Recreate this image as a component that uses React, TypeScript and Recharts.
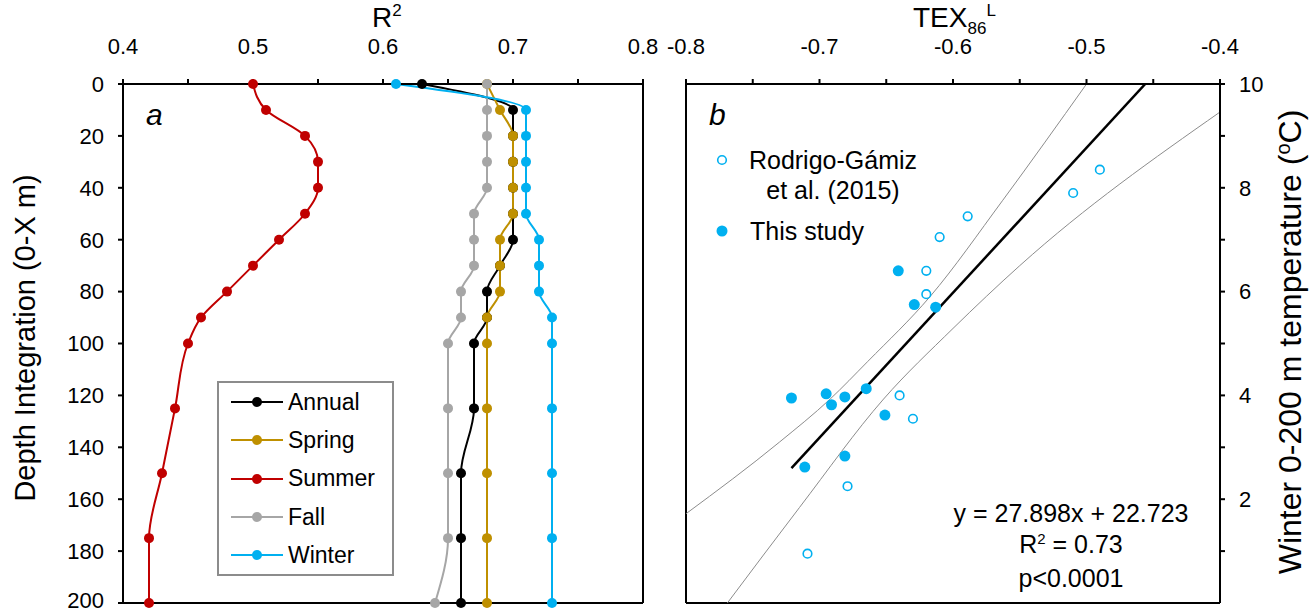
import React from "react";
import {
  ComposedChart,
  Legend,
  Line,
  LineChart,
  ReferenceLine,
  Scatter,
  XAxis,
  YAxis,
} from "recharts";

const FONT = '"Liberation Sans", Arial, Helvetica, sans-serif';

// panel a: R2 vs integration depth
const depths = [0, 10, 20, 30, 40, 50, 60, 70, 80, 90, 100, 125, 150, 175, 200];
const annual = [0.63, 0.7, 0.7, 0.7, 0.7, 0.7, 0.7, 0.69, 0.68, 0.68, 0.67, 0.67, 0.66, 0.66, 0.66];
const spring = [0.68, 0.69, 0.7, 0.7, 0.7, 0.7, 0.69, 0.69, 0.69, 0.68, 0.68, 0.68, 0.68, 0.68, 0.68];
const summer = [0.5, 0.51, 0.54, 0.55, 0.55, 0.54, 0.52, 0.5, 0.48, 0.46, 0.45, 0.44, 0.43, 0.42, 0.42];
const fall = [0.68, 0.68, 0.68, 0.68, 0.68, 0.67, 0.67, 0.67, 0.66, 0.66, 0.65, 0.65, 0.65, 0.65, 0.64];
const winter = [0.61, 0.71, 0.71, 0.71, 0.71, 0.71, 0.72, 0.72, 0.72, 0.73, 0.73, 0.73, 0.73, 0.73, 0.73];

const seasons = [
  { key: "annual", name: "Annual", color: "#000000", values: annual },
  { key: "spring", name: "Spring", color: "#BF9000", values: spring },
  { key: "summer", name: "Summer", color: "#C00000", values: summer },
  { key: "fall", name: "Fall", color: "#A6A6A6", values: fall },
  { key: "winter", name: "Winter", color: "#00B0F0", values: winter },
];

const r2Ticks = [0.4, 0.45, 0.5, 0.55, 0.6, 0.65, 0.7, 0.75, 0.8];
const depthTicks = [0, 20, 40, 60, 80, 100, 120, 140, 160, 180, 200];

// panel b: TEX86L vs winter temperature
const rodrigoTex = [-0.589, -0.51, -0.49, -0.61, -0.62, -0.62, -0.64, -0.63, -0.679, -0.709];
const rodrigoTemp = [7.45, 7.9, 8.35, 7.05, 6.4, 5.95, 4.0, 3.55, 2.25, 0.95];
const studyTex = [-0.641, -0.629, -0.613, -0.721, -0.695, -0.691, -0.681, -0.665, -0.651, -0.681, -0.711];
const studyTemp = [6.4, 5.75, 5.7, 3.95, 4.03, 3.82, 3.97, 4.13, 3.62, 2.83, 2.62];

const fitTex = [-0.721, -0.456];
const fitTemp = [2.6, 10];
const upperTex = [-0.8, -0.73, -0.692, -0.664, -0.617, -0.563, -0.5];
const upperTemp = [1.72, 3.1, 3.93, 4.65, 5.91, 7.75, 10];
const lowerTex = [-0.769, -0.715, -0.652, -0.6, -0.55, -0.4];
const lowerTemp = [0, 1.84, 3.93, 5.29, 6.5, 9.46];

const texTicks = [-0.8, -0.75, -0.7, -0.65, -0.6, -0.55, -0.5, -0.45, -0.4];
const tempTicks = [0, 1, 2, 3, 4, 5, 6, 7, 8, 9, 10];

const BLUE = "#00B0F0";

const pts = (xs: number[], ys: number[]) => xs.map((x, i) => ({ x, y: ys[i] }));

const rowsA = depths.map((depth, i) => {
  const row: Record<string, number> = { depth };
  seasons.forEach((s) => (row[s.key] = s.values[i]));
  return row;
});

const tickStyle = { fill: "#000", fontSize: 22, fontFamily: FONT };

const everyTenth = (v: number) => (Math.round(v * 100) % 10 === 0 ? String(Number(v.toFixed(1))) : "");

function SeasonLegend() {
  return (
    <div
      style={{
        border: "2px solid #8c8c8c",
        background: "#fff",
        padding: "0 12px",
        fontFamily: FONT,
        fontSize: 23,
        width: 149,
      }}
    >
      {seasons.map((s) => (
        <div key={s.key} style={{ display: "flex", alignItems: "center", height: 38.3 }}>
          <svg width={52} height={14} style={{ marginRight: 5 }}>
            <line x1={0} x2={52} y1={7} y2={7} stroke={s.color} strokeWidth={2} />
            <circle cx={26} cy={7} r={5} fill={s.color} />
          </svg>
          <span>{s.name}</span>
        </div>
      ))}
    </div>
  );
}

function TexLegend() {
  return (
    <div style={{ fontFamily: FONT, fontSize: 25, position: "relative", width: 230, height: 110 }}>
      <svg width={20} height={20} style={{ position: "absolute", left: 2, top: 10 }}>
        <circle cx={10} cy={10} r={4.3} fill="#fff" stroke={BLUE} strokeWidth={1.6} />
      </svg>
      <div style={{ position: "absolute", left: 23, top: 5, width: 200, textAlign: "center", lineHeight: "30px" }}>
        Rodrigo-Gámiz
        <br />
        et al. (2015)
      </div>
      <svg width={20} height={20} style={{ position: "absolute", left: 2, top: 81 }}>
        <circle cx={10} cy={10} r={5.5} fill={BLUE} />
      </svg>
      <div style={{ position: "absolute", left: 40, top: 76, lineHeight: "30px", whiteSpace: "nowrap" }}>This study</div>
    </div>
  );
}

const abs = (left: number, top: number, extra: React.CSSProperties = {}): React.CSSProperties => ({
  position: "absolute",
  left,
  top,
  fontFamily: FONT,
  color: "#000",
  whiteSpace: "nowrap",
  ...extra,
});

export default function App() {
  return (
    <div style={{ position: "absolute", left: 0, top: 0, width: 1313, height: 613, background: "#fff", overflow: "hidden" }}>
      <div style={{ position: "absolute", left: 0, top: 0 }}>
        <LineChart
          width={680}
          height={613}
          data={rowsA}
          layout="vertical"
          margin={{ top: 44, left: 53, right: 37, bottom: 10 }}
        >
          <XAxis
            type="number"
            orientation="top"
            domain={[0.4, 0.8]}
            ticks={r2Ticks}
            tickFormatter={everyTenth}
            tick={tickStyle}
            tickSize={5}
            tickMargin={25}
            height={40}
            axisLine={{ stroke: "#000", strokeWidth: 2 }}
            tickLine={{ stroke: "#000", strokeWidth: 2 }}
            allowDataOverflow
          />
          <YAxis
            type="number"
            dataKey="depth"
            domain={[0, 200]}
            ticks={depthTicks}
            tick={tickStyle}
            tickSize={5}
            tickMargin={14}
            width={70}
            axisLine={{ stroke: "#000", strokeWidth: 2 }}
            tickLine={{ stroke: "#000", strokeWidth: 2 }}
          />
          <ReferenceLine x={0.8} stroke="#000" strokeWidth={2} />
          <ReferenceLine y={200} stroke="#000" strokeWidth={2} />
          {seasons.map((s) => (
            <Line
              key={s.key}
              type="monotone"
              dataKey={s.key}
              name={s.name}
              stroke={s.color}
              strokeWidth={2}
              dot={{ r: 5, fill: s.color, stroke: s.color, strokeWidth: 0 }}
              isAnimationActive={false}
            />
          ))}
          <Legend
            layout="vertical"
            align="center"
            verticalAlign="middle"
            content={() => <SeasonLegend />}
            wrapperStyle={{ left: 217, top: 381, width: 180, height: 196 }}
          />
        </LineChart>
      </div>

      <div style={{ position: "absolute", left: 660, top: 0 }}>
        <ComposedChart width={653} height={613} margin={{ top: 44, left: 26, right: 53, bottom: 10 }}>
          <XAxis
            type="number"
            dataKey="x"
            orientation="top"
            domain={[-0.8, -0.4]}
            ticks={texTicks}
            tickFormatter={everyTenth}
            tick={tickStyle}
            tickSize={5}
            tickMargin={25}
            height={40}
            axisLine={{ stroke: "#000", strokeWidth: 2 }}
            tickLine={{ stroke: "#000", strokeWidth: 2 }}
            allowDataOverflow
          />
          <YAxis
            type="number"
            dataKey="y"
            orientation="right"
            domain={[0, 10]}
            ticks={tempTicks}
            tickFormatter={(v: number) => (v % 2 === 0 ? String(v) : "")}
            tick={tickStyle}
            tickSize={5}
            tickMargin={14}
            width={40}
            axisLine={{ stroke: "#000", strokeWidth: 2 }}
            tickLine={{ stroke: "#000", strokeWidth: 2 }}
            allowDataOverflow
          />
          <ReferenceLine x={-0.8} stroke="#000" strokeWidth={2} />
          <ReferenceLine y={0} stroke="#000" strokeWidth={2} />
          <Line
            data={pts(upperTex, upperTemp)}
            dataKey="y"
            type="monotone"
            stroke="#8c8c8c"
            strokeWidth={1}
            dot={false}
            isAnimationActive={false}
          />
          <Line
            data={pts(lowerTex, lowerTemp)}
            dataKey="y"
            type="monotone"
            stroke="#8c8c8c"
            strokeWidth={1}
            dot={false}
            isAnimationActive={false}
          />
          <Line
            data={pts(fitTex, fitTemp)}
            dataKey="y"
            type="linear"
            stroke="#000"
            strokeWidth={2.5}
            dot={false}
            isAnimationActive={false}
          />
          <Scatter
            name="Rodrigo-Gámiz et al. (2015)"
            data={pts(rodrigoTex, rodrigoTemp)}
            isAnimationActive={false}
            shape={(p: any) => <circle cx={p.cx} cy={p.cy} r={4.3} fill="#fff" stroke={BLUE} strokeWidth={1.6} />}
          />
          <Scatter
            name="This study"
            data={pts(studyTex, studyTemp)}
            isAnimationActive={false}
            shape={(p: any) => <circle cx={p.cx} cy={p.cy} r={5.5} fill={BLUE} />}
          />
          <Legend
            layout="vertical"
            align="center"
            verticalAlign="middle"
            content={() => <TexLegend />}
            wrapperStyle={{ left: 50, top: 140, width: 230, height: 110 }}
          />
        </ComposedChart>
      </div>

      {/* axis titles and annotations */}
      <div style={abs(372, 2, { fontSize: 28 })}>
        R<sup style={{ fontSize: 17, verticalAlign: 0, position: "relative", top: -11 }}>2</sup>
      </div>
      <div style={abs(913, 2, { fontSize: 28 })}>
        TEX
        <span style={{ fontSize: 17, position: "relative", top: 7 }}>86</span>
        <span style={{ fontSize: 17, position: "relative", top: -11 }}>L</span>
      </div>
      <div style={abs(25, 338, { fontSize: 29, transform: "translate(-50%, -50%) rotate(-90deg)" })}>
        Depth Integration (0-X m)
      </div>
      <div style={abs(1290, 342, { fontSize: 32, transform: "translate(-50%, -50%) rotate(-90deg)" })}>
        Winter 0-200 m temperature (
        <span style={{ fontSize: 20, position: "relative", top: -11 }}>o</span>C)
      </div>
      <div style={abs(146, 98, { fontSize: 30, fontStyle: "italic" })}>a</div>
      <div style={abs(709, 98, { fontSize: 30, fontStyle: "italic" })}>b</div>
      <div style={abs(1071, 498, { fontSize: 25, transform: "translateX(-50%)", textAlign: "center", lineHeight: "31px" })}>
        y = 27.898x + 22.723
        <br />R<sup style={{ fontSize: 15, verticalAlign: 0, position: "relative", top: -9 }}>2</sup> = 0.73
        <br />
        p&lt;0.0001
      </div>
    </div>
  );
}
